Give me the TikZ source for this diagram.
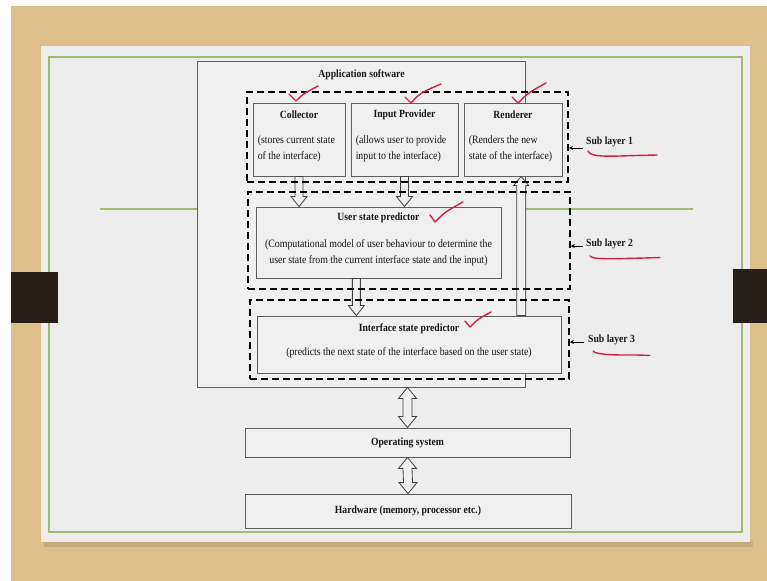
\documentclass[tikz,border=0pt]{standalone}
\usepackage{fontspec}
\setmainfont{Liberation Serif}
\newfontfamily\narrowserif[FakeStretch=0.88]{Liberation Serif}
\usetikzlibrary{calc,arrows.meta}
\definecolor{wood}{RGB}{222,190,138}
\definecolor{slide}{RGB}{237,237,237}
\definecolor{grn}{RGB}{160,188,110}
\definecolor{barc}{RGB}{40,30,24}
\definecolor{boxln}{RGB}{95,95,95}
\definecolor{ink}{RGB}{22,22,22}
\definecolor{pen}{RGB}{212,32,66}
\definecolor{boxfill}{RGB}{240,240,240}
\newcommand{\blkdown}[2]{\draw[blk] ($(#1)+(-4,0)$) -- ($(#2)+(-4,-10)$) -- ($(#2)+(-8,-10)$) -- (#2) -- ($(#2)+(8,-10)$) -- ($(#2)+(4,-10)$) -- ($(#1)+(4,0)$) -- cycle;}
\newcommand{\blkup}[2]{\draw[blk] ($(#1)+(-4.5,0)$) -- ($(#2)+(-4.5,9)$) -- ($(#2)+(-7.5,9)$) -- (#2) -- ($(#2)+(7.5,9)$) -- ($(#2)+(4.5,9)$) -- ($(#1)+(4.5,0)$) -- cycle;}
\newcommand{\blkboth}[2]{\draw[blk] (#1) -- ($(#1)+(9,11)$) -- ($(#1)+(4.5,11)$) -- ($(#2)+(4.5,-11)$) -- ($(#2)+(9,-11)$) -- (#2) -- ($(#2)+(-9,-11)$) -- ($(#2)+(-4.5,-11)$) -- ($(#1)+(-4.5,11)$) -- ($(#1)+(-9,11)$) -- cycle;}
\begin{document}
\begin{tikzpicture}[x=1bp,y=-1bp,
  sbox/.style={draw=boxln,fill=boxfill,line width=0.9bp,inner sep=0,rectangle},
  dbox/.style={draw=black,dash pattern=on 7bp off 4bp,line width=1.8bp,inner sep=0,rectangle},
  ttl/.style={text=ink,font=\narrowserif\bfseries\fontsize{11bp}{12bp}\selectfont,inner sep=0},
  dsc/.style={text=ink,font=\narrowserif\fontsize{11.2bp}{16bp}\selectfont,inner sep=0},
  blk/.style={draw=black!75,fill=boxfill,line width=0.8bp,line join=miter},
  pencil/.style={draw=pen,line width=1.4bp,line cap=round,line join=round},
  slarrow/.style={draw=black,line width=0.9bp,-{Stealth[length=4bp,width=4bp]}}]
\useasboundingbox (0,0) rectangle (767,581);
\fill[white] (0,0) rectangle (767,581);
\fill[wood] (11,6) rectangle (767,581);
\fill[black,opacity=0.10] (44,541) rectangle (753,547);
\fill[slide] (41,46) rectangle (750,542);
\draw[grn,line width=1.5bp] (49,57) rectangle (742,532);
\draw[grn,line width=1.5bp] (100,209) -- (693,209);
\fill[barc] (11,272) rectangle (58,323);
\fill[barc] (733,269) rectangle (767,323);
% application software box
\node[sbox,minimum width=328bp,minimum height=326bp] (app) at (361,224) {};
\node[ttl] (appt) at (361.5,75) {Application software};
% sub layer 1
\node[sbox,minimum width=92bp,minimum height=73bp] (col) at (299,139.5) {};
\node[sbox,minimum width=107bp,minimum height=73bp] (inp) at (404.5,139.5) {};
\node[sbox,minimum width=98bp,minimum height=73bp] (ren) at (513,139.5) {};
\node[ttl] (colt) at ($(col.north)+(0,12)$) {Collector};
\node[ttl] (inpt) at ($(inp.north)+(0,12)$) {Input Provider};
\node[ttl] (rent) at ($(ren.north)+(0,12)$) {Renderer};
\node[dsc,anchor=west,align=left] (cold) at ($(col.west)+(5,9.5)$) {(stores current state\\of the interface)};
\node[dsc,anchor=west,align=left] (inpd) at ($(inp.west)+(5,9.5)$) {(allows user to provide\\input to the interface)};
\node[dsc,anchor=west,align=left] (rend) at ($(ren.west)+(5,9.5)$) {(Renders the new\\state of the interface)};
% sub layer 2
\node[sbox,minimum width=245bp,minimum height=71bp] (usp) at (378.5,242.5) {};
\node[ttl] (uspt) at ($(usp.north)+(0,11)$) {User state predictor};
\node[dsc,align=center] (uspd) at ($(usp.center)+(0,10)$) {(Computational model of user behaviour to determine the\\user state from the current interface state and the input)};
% sub layer 3
\node[sbox,minimum width=304bp,minimum height=57bp] (isp) at (409,344.5) {};
\node[ttl] (ispt) at ($(isp.north)+(0,13)$) {Interface state predictor};
\node[dsc] (ispd) at ($(isp.north)+(0,37)$) {(predicts the next state of the interface based on the user state)};
% OS and hardware
\node[sbox,minimum width=325bp,minimum height=29bp] (os) at (407.5,442.5) {};
\node[ttl] (ost) at (os.center) {Operating system};
\node[sbox,minimum width=326bp,minimum height=34bp] (hw) at (408,511) {};
\node[ttl] (hwt) at (hw.center) {Hardware (memory, processor etc.)};
% arrows
\coordinate (a1s) at (col.south);
\coordinate (a1e) at (col.south |- usp.north);
\coordinate (a2s) at (inp.south);
\coordinate (a2e) at (inp.south |- usp.north);
\coordinate (a3s) at ($(usp.south west)!0.41!(usp.south east)$);
\coordinate (a3e) at (a3s |- isp.north);
\coordinate (a4s) at ($(isp.north west)!0.868!(isp.north east)$);
\coordinate (a4e) at (a4s |- ren.south);
\coordinate (a5s) at (os.north |- app.south);
\coordinate (a5e) at (os.north);
\coordinate (a6s) at (os.south);
\coordinate (a6e) at (hw.north);
\blkdown{a1s}{a1e}
\blkdown{a2s}{a2e}
\blkdown{a3s}{a3e}
\blkup{a4s}{a4e}
\blkboth{a5s}{a5e}
\blkboth{a6s}{a6e}
% dashed sub layer boxes
\node[dbox,minimum width=321bp,minimum height=90bp] (sl1) at (407.5,137) {};
\node[dbox,minimum width=322bp,minimum height=97bp] (sl2) at (409,240.5) {};
\node[dbox,minimum width=319bp,minimum height=79bp] (sl3) at (409.5,339.5) {};
% sub layer labels
\node[ttl,anchor=west] (lab1) at (586,142) {Sub layer 1};
\node[ttl,anchor=west] (lab2) at (586,244) {Sub layer 2};
\node[ttl,anchor=west] (lab3) at (588,340) {Sub layer 3};
\coordinate (s1) at (583,148);
\coordinate (s2) at (583,246);
\coordinate (s3) at (584,342);
\draw[slarrow] (s1) -- (s1 -| sl1.east);
\draw[slarrow] (s2) -- (s2 -| sl2.east);
\draw[slarrow] (s3) -- (s3 -| sl3.east);
% red pen marks
\draw[pencil] (588,151) .. controls (590,156) and (600,156.5) .. (620,156) .. controls (635,155.5) .. (657,155);
\draw[pencil] (590,256) .. controls (592,259) and (605,259) .. (625,258.5) .. controls (645,258) .. (660,257.5);
\draw[pencil] (593,351) .. controls (595,354) and (608,355) .. (625,355) .. controls (640,355) .. (650,355.5);
\draw[pencil] (289,94) -- (296,101) .. controls (303,94) .. (318,86);
\draw[pencil] (405,97) -- (411,103) .. controls (420,93) .. (441,84);
\draw[pencil] (512,97) -- (518,103) .. controls (528,93) .. (546,83);
\draw[pencil] (430,215) -- (435,222) .. controls (445,212) .. (463,202);
\draw[pencil] (465,321) -- (470,327) .. controls (478,319) .. (491,312);
\end{tikzpicture}
\end{document}
